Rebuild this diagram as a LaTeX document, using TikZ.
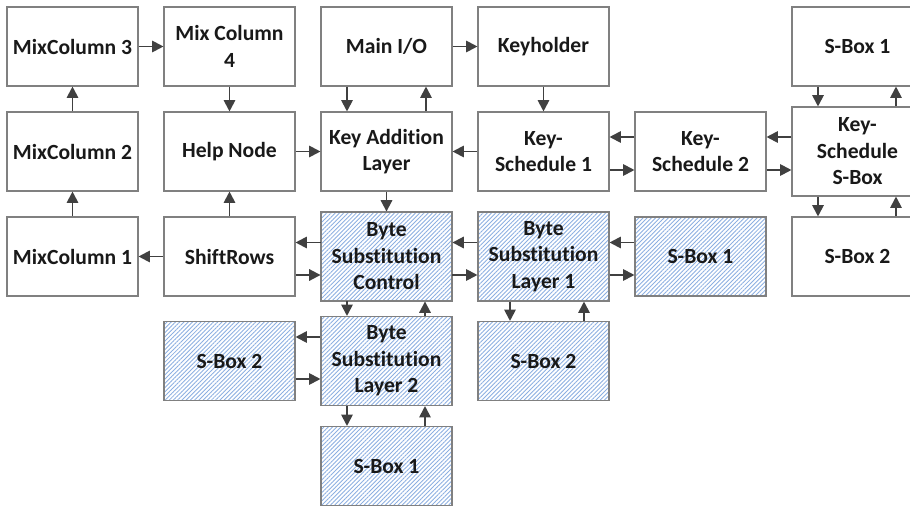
\documentclass[tikz,border=0pt]{standalone}
\usepackage{fontspec}
\setmainfont{Carlito}[Ligatures=NoCommon]
\usepackage{xcolor}
\usepackage{tikz}
\usetikzlibrary{arrows.meta,positioning,patterns.meta}
\definecolor{boxline}{RGB}{128,128,128}
\definecolor{arrowgray}{RGB}{64,64,64}
\definecolor{hatchblue}{RGB}{140,175,225}
\tikzset{
  unitbox/.style={draw=boxline, line width=0.6pt, fill=white, align=center, minimum width=2.62cm, minimum height=1.58cm, inner sep=1pt, text=black!90, font=\fontsize{12.3}{15.1}\selectfont\bfseries},
  tallbox/.style={unitbox, minimum height=1.78cm},
  hatchbox/.style={pattern={Lines[angle=45,distance=1.7pt,line width=0.5pt]}, pattern color=hatchblue},
  dataarrow/.style={-{Triangle[length=6.5pt,width=6.5pt]}, line width=1.1pt, draw=arrowgray}
}

\begin{document}
\begin{tikzpicture}[node distance=2.1cm and 3.14cm, on grid]
    \useasboundingbox (0,0) rectangle (18.2,10.12);
    \clip (0,0) rectangle (18.2,10.12);
    % top row
    \node[unitbox] (mix3) at (1.45,9.19) {MixColumn 3};
    \node[unitbox, right=of mix3] (mix4) {Mix Column\\4};
    \node[unitbox, right=of mix4] (mainio) {Main I/O};
    \node[unitbox, right=of mainio] (keyholder) {Keyholder};
    \node[unitbox, right=3.14cm*2 of keyholder] (ksbox1) {S-Box 1};
    % second row
    \node[unitbox, below=of mix3] (mix2) {MixColumn 2};
    \node[unitbox, below=of mix4] (help) {Help Node};
    \node[unitbox, below=of mainio] (keyadd) {Key Addition\\Layer};
    \node[unitbox, below=of keyholder] (ks1) {Key-\\Schedule 1};
    \node[unitbox, right=of ks1] (ks2) {Key-\\Schedule 2};
    \node[tallbox, right=of ks2] (kssbox) {Key-\\Schedule\\S-Box};
    % third row
    \node[unitbox, below=of mix2] (mix1) {MixColumn 1};
    \node[unitbox, below=of help] (shift) {ShiftRows};
    \node[tallbox, hatchbox, below=of keyadd] (bsctrl) {Byte\\Substitution\\Control};
    \node[tallbox, hatchbox, below=of ks1] (bsl1) {Byte\\Substitution\\Layer 1};
    \node[unitbox, hatchbox, below=of ks2] (sbox1a) {S-Box 1};
    \node[unitbox, below=of kssbox] (ksbox2) {S-Box 2};
    % lower rows
    \node[tallbox, hatchbox, below=1.045cm*2 of bsctrl] (bsl2) {Byte\\Substitution\\Layer 2};
    \node[unitbox, hatchbox, left=of bsl2] (sbox2b) {S-Box 2};
    \node[unitbox, hatchbox, below=1.045cm*2 of bsl1] (sbox2a) {S-Box 2};
    \node[unitbox, hatchbox, below=of bsl2] (sbox1b) {S-Box 1};
    % mix columns
    \draw[dataarrow] (shift) -- (mix1);
    \draw[dataarrow] (mix1) -- (mix2);
    \draw[dataarrow] (mix2) -- (mix3);
    \draw[dataarrow] (mix3) -- (mix4);
    \draw[dataarrow] (mix4) -- (help);
    \draw[dataarrow] (shift) -- (help);
    \draw[dataarrow] (help) -- (keyadd);
    % main path
    \draw[dataarrow] (mainio) -- (keyholder);
    \draw[dataarrow] ([xshift=-0.79cm]mainio.south) -- ([xshift=-0.79cm]keyadd.north);
    \draw[dataarrow] ([xshift=0.79cm]keyadd.north) -- ([xshift=0.79cm]mainio.south);
    \draw[dataarrow] (keyadd) -- (bsctrl);
    \draw[dataarrow] ([yshift=0.28cm]bsctrl.west) -- ([yshift=0.28cm]shift.east);
    \draw[dataarrow] ([yshift=-0.37cm]shift.east) -- ([yshift=-0.37cm]bsctrl.west);
    % key schedule
    \draw[dataarrow] (keyholder) -- (ks1);
    \draw[dataarrow] (ks1) -- (keyadd);
    \draw[dataarrow] ([yshift=0.29cm]ks2.west) -- ([yshift=0.29cm]ks1.east);
    \draw[dataarrow] ([yshift=-0.37cm]ks1.east) -- ([yshift=-0.37cm]ks2.west);
    \draw[dataarrow] ([yshift=0.29cm]kssbox.west) -- ([yshift=0.29cm]ks2.east);
    \draw[dataarrow] ([yshift=-0.37cm]ks2.east) -- ([yshift=-0.37cm]kssbox.west);
    \draw[dataarrow] ([xshift=-0.79cm]ksbox1.south) -- ([xshift=-0.79cm]kssbox.north);
    \draw[dataarrow] ([xshift=0.77cm]kssbox.north) -- ([xshift=0.77cm]ksbox1.south);
    \draw[dataarrow] ([xshift=-0.79cm]kssbox.south) -- ([xshift=-0.79cm]ksbox2.north);
    \draw[dataarrow] ([xshift=0.77cm]ksbox2.north) -- ([xshift=0.77cm]kssbox.south);
    % byte substitution
    \draw[dataarrow] ([yshift=0.28cm]bsl1.west) -- ([yshift=0.28cm]bsctrl.east);
    \draw[dataarrow] ([yshift=-0.37cm]bsctrl.east) -- ([yshift=-0.37cm]bsl1.west);
    \draw[dataarrow] ([yshift=0.28cm]sbox1a.west) -- ([yshift=0.28cm]bsl1.east);
    \draw[dataarrow] ([yshift=-0.37cm]bsl1.east) -- ([yshift=-0.37cm]sbox1a.west);
    \draw[dataarrow] ([xshift=-0.67cm]bsl1.south) -- ([xshift=-0.67cm]sbox2a.north);
    \draw[dataarrow] ([xshift=0.81cm]sbox2a.north) -- ([xshift=0.81cm]bsl1.south);
    \draw[dataarrow] ([xshift=-0.79cm]bsctrl.south) -- ([xshift=-0.79cm]bsl2.north);
    \draw[dataarrow] ([xshift=0.77cm]bsl2.north) -- ([xshift=0.77cm]bsctrl.south);
    \draw[dataarrow] ([yshift=0.48cm]bsl2.west) -- ([yshift=0.48cm]sbox2b.east);
    \draw[dataarrow] ([yshift=-0.36cm]sbox2b.east) -- ([yshift=-0.36cm]bsl2.west);
    \draw[dataarrow] ([xshift=-0.79cm]bsl2.south) -- ([xshift=-0.79cm]sbox1b.north);
    \draw[dataarrow] ([xshift=0.77cm]sbox1b.north) -- ([xshift=0.77cm]bsl2.south);
\end{tikzpicture}
\end{document}
